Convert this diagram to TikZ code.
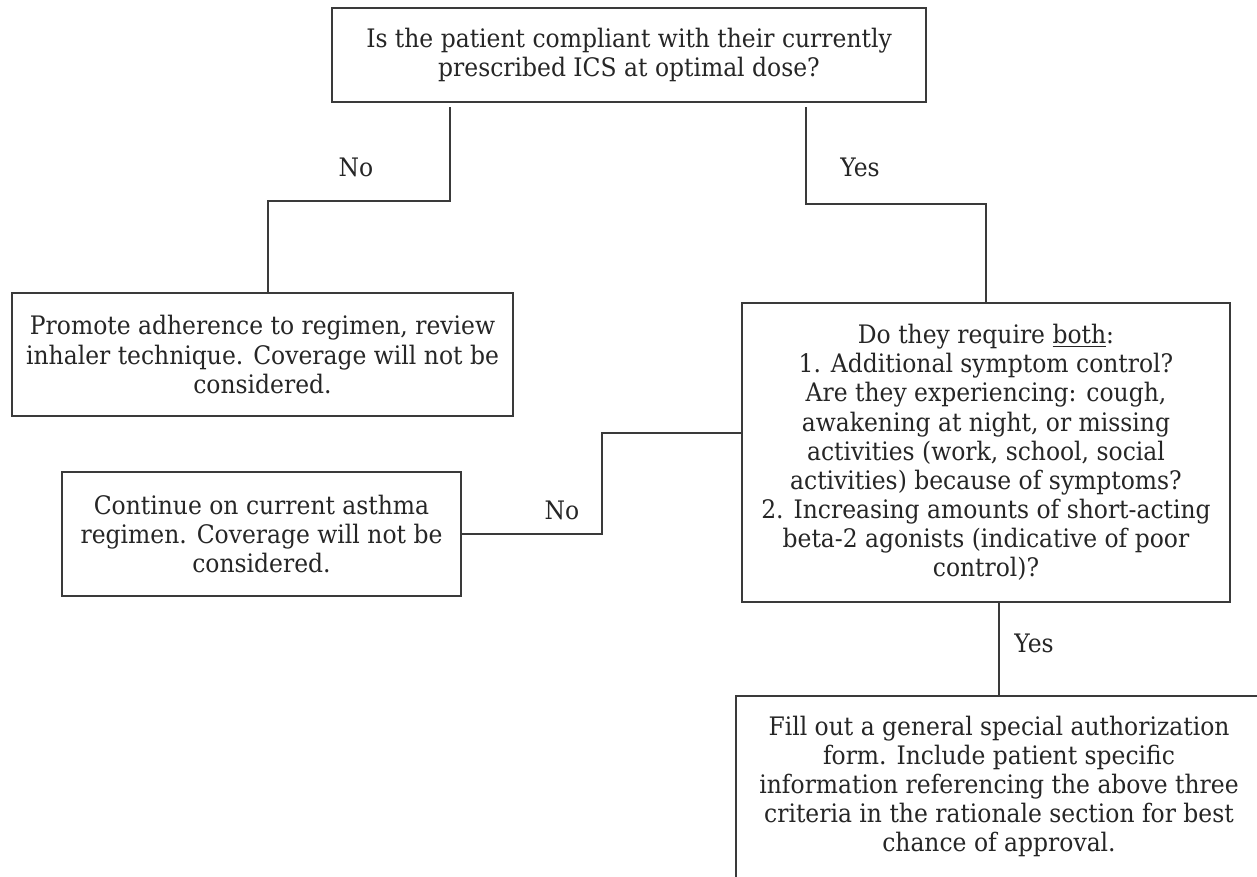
\documentclass[tikz,border=0pt]{standalone}
\usepackage{fontspec}
\setmainfont{DejaVu Serif}[FakeStretch=0.92]
\definecolor{linec}{HTML}{3A3A3A}
\definecolor{textc}{HTML}{262626}
\newcommand{\fs}{\fontsize{14.5}{16.6}\selectfont}
\begin{document}
\begin{tikzpicture}[x=0.02cm,y=-0.02cm,
  box/.style={draw=linec, line width=1.1pt, inner sep=0pt, align=center, font=\fs, text=textc},
  lbl/.style={font=\fs, inner sep=0pt, text=textc, align=center},
  conn/.style={draw=linec, line width=1.1pt}]
\useasboundingbox (0,0) rectangle (1257,876);
\clip (0,0) rectangle (1257,876);
\fill[white] (0,0) rectangle (1257,876);
\node[box, minimum width=11.88cm, minimum height=1.88cm] (top) at (629,55)
  {Is the patient compliant with their currently\\prescribed ICS at optimal dose?};
\node[box, minimum width=10.02cm, minimum height=2.46cm] (box1) at (262.5,354.5)
  {Promote adherence to regimen, review\\inhaler technique. Coverage will not be\\considered.};
\node[box, minimum width=9.76cm, minimum height=5.98cm] (right) at (986,452.5)
  {Do they require \underline{both}:\\1. Additional symptom control?\\Are they experiencing: cough,\\awakening at night, or missing\\activities (work, school, social\\activities) because of symptoms?\\2. Increasing amounts of short-acting\\beta-2 agonists (indicative of poor\\control)?};
\node[box, minimum width=7.98cm, minimum height=2.48cm] (box2) at (261.5,534)
  {Continue on current asthma\\regimen. Coverage will not be\\considered.};
\node[box, minimum width=11.2cm, minimum height=4.08cm] (bottom) at (1016,798) {};
\node[lbl] (bottomtext) at (999,786.5)
  {Fill out a general special authorization\\form. Include patient specific\\information referencing the above three\\criteria in the rationale section for best\\chance of approval.};
\coordinate (nA) at (450,107);
\coordinate (nB) at (268,201);
\draw[conn] (nA) |- (nB) -- (nB |- box1.north);
\coordinate (yA) at (806,107);
\coordinate (yB) at (986,204);
\draw[conn] (yA) |- (yB) -- (yB |- right.north);
\coordinate (m1) at (602,433);
\draw[conn] (right.west |- m1) -- (m1) |- (box2.east);
\coordinate (b1) at (999,0);
\draw[conn] (right.south -| b1) -- (bottom.north -| b1);
\node[lbl] (lno1) at (356,167) {No};
\node[lbl] (lyes1) at (860,167) {Yes};
\node[lbl] (lno2) at (562,510) {No};
\node[lbl] (lyes2) at (1034,643) {Yes};
\end{tikzpicture}
\end{document}
